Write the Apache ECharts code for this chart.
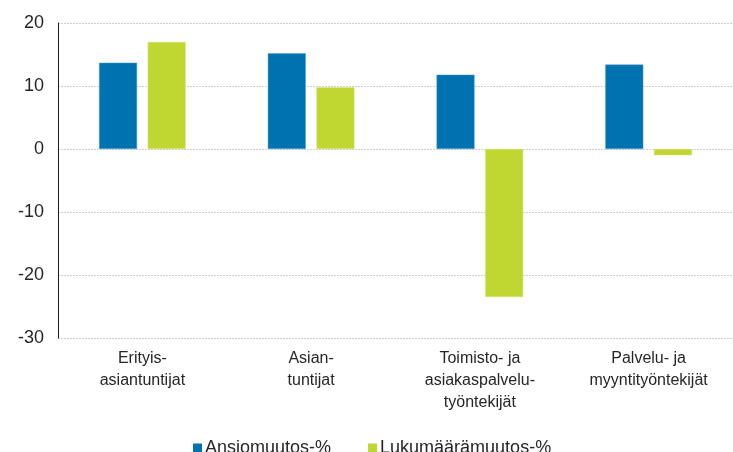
<!DOCTYPE html>
<html>
<head>
<meta charset="utf-8">
<script src="https://cdn.jsdelivr.net/npm/echarts@6/dist/echarts.min.js"></script>
<style>
  html, body { margin: 0; padding: 0; background: #fff; }
  #chart { width: 733px; height: 452px; }
</style>
</head>
<body>
<div id="chart"></div>
<script>
// ammattiryhmät (x-akselin luokat)
const categories = [
  'Erityis-\nasiantuntijat',
  'Asian-\ntuntijat',
  'Toimisto- ja\nasiakaspalvelu-\ntyöntekijät',
  'Palvelu- ja\nmyyntityöntekijät'
]
const ansiomuutos = [13.7, 15.2, 11.8, 13.4]
const lukumaaramuutos = [17.0, 9.8, -23.5, -1.0]
const seriesNames = ['Ansiomuutos-%', 'Lukumäärämuutos-%']

const textColor = '#262626'
const fontFamily = '"Liberation Sans", Arial, sans-serif'

const chart = echarts.init(document.getElementById('chart'))

chart.setOption({
  backgroundColor: '#fff',
  animation: false,
  textStyle: { fontFamily },
  grid: {
    left: 58,
    right: -4,
    top: 23,
    bottom: 114
  },
  legend: {
    data: seriesNames,
    left: 188,
    top: 434,
    itemWidth: 9,
    itemHeight: 9,
    itemGap: 37,
    icon: 'rect',
    itemStyle: { borderWidth: 0 },
    textStyle: { fontSize: 18, color: textColor, fontFamily, padding: [0, 0, 0, -2] }
  },
  xAxis: {
    type: 'category',
    data: categories,
    axisLine: { show: false },
    axisTick: { show: false },
    axisLabel: {
      interval: 0,
      margin: 10,
      fontSize: 16,
      lineHeight: 22,
      color: textColor,
      fontFamily
    }
  },
  yAxis: {
    type: 'value',
    min: -30,
    max: 20,
    interval: 10,
    axisLine: { show: true, lineStyle: { color: '#1a1a1a', width: 1 } },
    axisTick: { show: false },
    axisLabel: { fontSize: 18, color: textColor, margin: 14, fontFamily },
    splitLine: { lineStyle: { color: '#cfcfcf', type: [2, 1], width: 1 } }
  },
  series: [
    {
      name: seriesNames[0],
      type: 'bar',
      data: ansiomuutos,
      barWidth: 38,
      barGap: '28%',
      itemStyle: { color: '#0072b0', borderColor: '#4f9fd0', borderWidth: 0.5 }
    },
    {
      name: seriesNames[1],
      type: 'bar',
      data: lukumaaramuutos,
      barWidth: 38,
      itemStyle: { color: '#bfd730', borderColor: '#d6e676', borderWidth: 0.5 }
    }
  ]
})

window.addEventListener('resize', () => chart.resize())
</script>
</body>
</html>
